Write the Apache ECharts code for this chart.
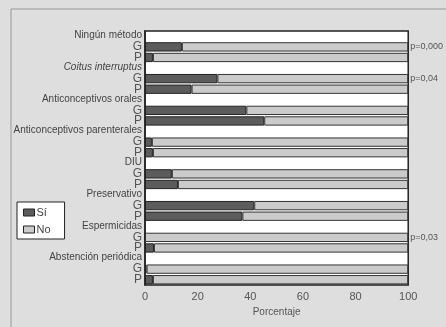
<!DOCTYPE html>
<html><head><meta charset="utf-8">
<script src="https://cdn.jsdelivr.net/npm/echarts@6/dist/echarts.min.js"></script>
<style>html,body{margin:0;padding:0;background:#dedede}#c{width:446px;height:327px}</style>
</head><body><div id="c"></div>
<script>
const methods = ['Ningún método','Coitus interruptus','Anticonceptivos orales','Anticonceptivos parenterales','DIU','Preservativo','Espermicidas','Abstención periódica'];
const groups = ['G','P'];
const siG = [14, 27.5, 38.5, 2.6, 10.2, 41.5, 0, 0.6];
const siP = [3, 17.7, 45.3, 3, 12.5, 37, 3.4, 3];
const pValues = ['p=0,000','p=0,04','','','','','p=0,03',''];
const ticks = [0,20,40,60,80,100];

const cats = [], si = [], no = [], right = [];
methods.forEach((m,i)=>{
  cats.push('h|'+m); si.push('-'); no.push('-'); right.push('');
  cats.push('g|'+groups[0]); si.push(siG[i]); no.push(100-siG[i]); right.push(pValues[i]);
  cats.push('g|'+groups[1]); si.push(siP[i]); no.push(100-siP[i]); right.push('');
});

const chart = echarts.init(document.getElementById('c'));
chart.setOption({
  backgroundColor:'#dedede',
  animation:false,
  graphic:[{type:'rect',shape:{x:11,y:9,width:460,height:340},style:{fill:'none',stroke:'#999',lineWidth:1},z:-1}],
  legend:{orient:'vertical',left:17,top:202,itemWidth:11,itemHeight:7,itemGap:6,icon:'rect',
    backgroundColor:'#fff',borderColor:'#222',borderWidth:1,padding:[5,14,4,6],
    textStyle:{fontFamily:'Liberation Sans',fontSize:11,color:'#444',padding:[0,0,0,-3]},
    itemStyle:{borderColor:'#222',borderWidth:1},
    data:['Sí','No']},
  grid:{left:145,right:36,top:31,bottom:42,show:true,backgroundColor:'#fff',borderColor:'#222',borderWidth:1.5},
  xAxis:{type:'value',min:ticks[0],max:ticks[ticks.length-1],interval:20,
    axisLine:{show:false},axisTick:{show:false},splitLine:{show:false},
    axisLabel:{fontFamily:'Liberation Sans',fontSize:11,color:'#555',margin:6},
    name:'Porcentaje',nameLocation:'middle',nameGap:21,
    nameTextStyle:{fontFamily:'Liberation Sans',fontSize:10,color:'#555'}},
  yAxis:[{type:'category',inverse:true,data:cats,
    axisLine:{show:true,lineStyle:{color:'#222',width:1.5}},axisTick:{show:false},
    axisLabel:{interval:0,margin:3,fontFamily:'Liberation Sans',color:'#333',
      formatter:v=>{const [t,s]=v.split('|'); if(t==='g') return '{g|'+s+'}'; if(s==='Coitus interruptus') return '{i|'+s+'}'; return '{h|'+s+'}';},
      rich:{g:{fontSize:12,color:'#555',fontFamily:'Liberation Sans'},
            h:{fontSize:10,color:'#444',fontFamily:'Liberation Sans',padding:[0,0,2,0]},
            i:{fontSize:10,color:'#444',fontStyle:'italic',fontFamily:'Liberation Sans',padding:[0,0,2,0]}}}},
    {type:'category',inverse:true,data:right,position:'right',
     axisLine:{show:false},axisTick:{show:false},
     axisLabel:{interval:0,margin:2,fontFamily:'Liberation Sans',fontSize:9,color:'#555',padding:[10,0,0,0]}}],
  series:[
    {name:'Sí',type:'bar',stack:'a',data:si,barCategoryGap:'12%',
     itemStyle:{color:'#5c5c5c',borderColor:'#222',borderWidth:1}},
    {name:'No',type:'bar',stack:'a',data:no,
     itemStyle:{color:'#cbcbcb',borderColor:'#333',borderWidth:1}}
  ]
});
</script></body></html>
